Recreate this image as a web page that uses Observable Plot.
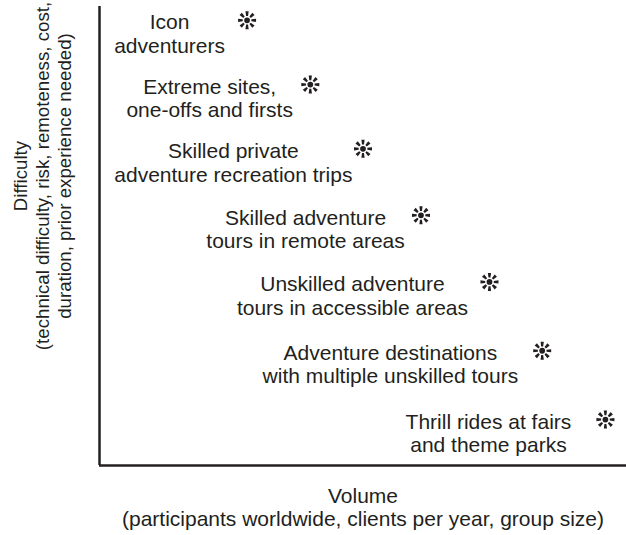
<!DOCTYPE html>
<html>
<head>
<meta charset="utf-8">
<script src="https://cdn.jsdelivr.net/npm/d3@7"></script>
<script src="https://cdn.jsdelivr.net/npm/@observablehq/plot@0.6"></script>
<style>
  body { margin: 0; background: #fff; }
</style>
</head>
<body>
<div id="chart"></div>
<script>
// Adventure tourism categories (label lines separated by \n)
const categories = [
  "Icon\nadventurers",
  "Extreme sites,\none-offs and firsts",
  "Skilled private\nadventure recreation trips",
  "Skilled adventure\ntours in remote areas",
  "Unskilled adventure\ntours in accessible areas",
  "Adventure destinations\nwith multiple unskilled tours",
  "Thrill rides at fairs\nand theme parks"
];
// Relative position on a 0–10 scale
const volume     = [2.8, 4.0, 5.0, 6.1, 7.4, 8.4, 9.6];
const difficulty = [9.7, 8.3, 6.9, 5.45, 4.0, 2.5, 1.0];
// Where each label is centred along the volume axis
const labelVolume = [1.33, 2.09, 2.54, 3.91, 4.80, 5.52, 7.38];

const xTitle = "Volume\n(participants worldwide, clients per year, group size)";
const yTitle = "Difficulty\n(technical difficulty, risk, remoteness, cost,\nduration, prior experience needed)";

const rows = categories.map((c, i) => ({
  label: c, volume: volume[i], difficulty: difficulty[i], labelVolume: labelVolume[i]
}));

const ink = "#231f20";
const font = "'Liberation Sans', Arial, Helvetica, sans-serif";

// eight-spoked burst marker
const burst = {
  draw(context, size) {
    const R = Math.sqrt(size / Math.PI);
    const c = R * 0.32;
    context.moveTo(c, 0);
    context.arc(0, 0, c, 0, 2 * Math.PI);
    const r1 = R * 0.48, r2 = R, w1 = R * 0.11, w2 = R * 0.18;
    for (let k = 0; k < 8; k++) {
      const a = k * Math.PI / 4;
      const ux = Math.cos(a), uy = Math.sin(a), px = -uy, py = ux;
      context.moveTo(r1 * ux + w1 * px, r1 * uy + w1 * py);
      context.lineTo(r2 * ux + w2 * px, r2 * uy + w2 * py);
      context.lineTo(r2 * ux - w2 * px, r2 * uy - w2 * py);
      context.lineTo(r1 * ux - w1 * px, r1 * uy - w1 * py);
      context.closePath();
    }
  }
};

const chart = Plot.plot({
  width: 626,
  height: 535,
  marginLeft: 99,
  marginRight: 0,
  marginTop: 6,
  marginBottom: 70,
  style: { fontFamily: font, color: ink, background: "#fff" },
  x: { domain: [0, 10], axis: null },
  y: { domain: [0, 10], axis: null },
  marks: [
    Plot.ruleX([0], { stroke: ink, strokeWidth: 2.5 }),
    Plot.ruleY([0], { stroke: ink, strokeWidth: 2.5 }),
    Plot.dot(rows, { x: "volume", y: "difficulty", r: 9, symbol: burst, fill: ink, stroke: "none" }),
    Plot.text(rows, {
      x: "labelVolume", y: "difficulty", text: "label",
      textAnchor: "middle", lineAnchor: "top", dy: -7.5,
      lineHeight: 1.12, fontSize: 21, fill: ink
    }),
    Plot.text([xTitle], {
      frameAnchor: "bottom", textAnchor: "middle", lineAnchor: "top",
      dy: 21, lineHeight: 1.1, fontSize: 21, fill: ink
    }),
    Plot.text([yTitle], {
      frameAnchor: "left", textAnchor: "middle", lineAnchor: "middle",
      rotate: -90, dx: -58, dy: -60, lineHeight: 1.18, fontSize: 18.7, fill: ink
    })
  ]
});

document.getElementById("chart").appendChild(chart);
</script>
</body>
</html>
